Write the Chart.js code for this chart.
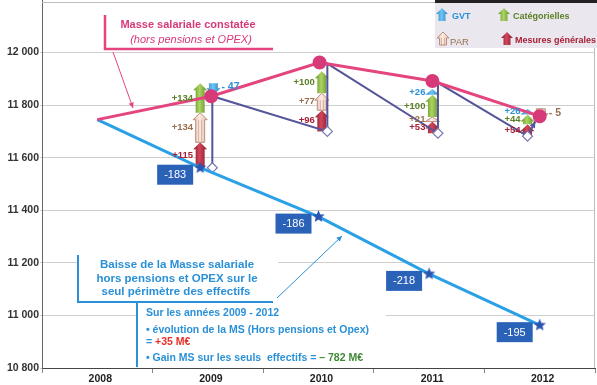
<!DOCTYPE html>
<html>
<head>
<meta charset="utf-8">
<script src="https://cdn.jsdelivr.net/npm/chart.js@4"></script>
<style>
  html, body { margin: 0; padding: 0; background: #fff; }
  #wrap { width: 597px; height: 385px; position: relative; }
</style>
</head>
<body>
<div id="wrap"><canvas id="c"></canvas></div>
<script>
const years = ['2008', '2009', '2010', '2011', '2012'];

// Masse salariale constatée (hors pensions et OPEX)
const constateeX = [2008, 2009.03, 2010.01, 2011.03, 2012];
const constatee = [11745, 11834, 11962, 11892, 11758];

// Masse salariale sur le seul périmètre des effectifs
const effectifsX = [2008, 2008.93, 2010, 2011, 2012];
const effectifs = [11745, 11562, 11376, 11158, 10963];
const effetEffectifs = [null, -183, -186, -218, -195];

// trait violet d'une année à l'autre
const passageX = [2009.04, 2009.04, 2010.08, 2010.08, 2011.08, 2011.08, 2011.89, 2011.96];
const passage = [11562, 11834, 11700, 11958, 11693, 11885, 11682, 11738];
const passageRayon = [5, 0, 5, 0, 5, 0, 5, 0];

// mesures 2009..2012
const mesuresX = [2008.93, 2010.03, 2011.03, 2011.89];
const mesuresBase = [11562, 11700, 11693, 11682];
const mesuresGenerales = [115, 96, 53, 54];
const par = [134, 77, 21, -5];
const categorielles = [134, 100, 100, 44];
const gvt = [-47, null, 26, 26];

const echelleFleches = 0.84;
const decalageNegatif = 0.12;

const FONT = '"Liberation Sans", Arial, sans-serif';
const ROSE = '#e4457f';
const ROSE_PT = '#d63a78';
const BLEU = '#2aa0e6';
const VIOLET = '#55559a';
const BLEU_NOTE = '#2a90d8';

const familles = [
  { nom: 'Mesures générales', vals: mesuresGenerales, light: '#d2465c', dark: '#861a2c', text: '#a82038' },
  { nom: 'PAR', vals: par, light: '#fdebe2', dark: '#e6bcaa', stroke: '#b98f7e', text: '#98704f' },
  { nom: 'Catégorielles', vals: categorielles, light: '#acd464', dark: '#5f8f22', text: '#5a7f25' },
  { nom: 'GVT', vals: gvt, light: '#70c4f2', dark: '#2a84c8', text: '#2a90d8' }
];

// empilement des flèches
const sommet = mesuresBase.slice();
const flechesData = familles.map(() => []);
familles.forEach((f, k) => {
  f.vals.forEach((v, i) => {
    if (v == null || v < 0) return;
    const haut = sommet[i] + v * echelleFleches;
    flechesData[k].push({ x: mesuresX[i], y: [sommet[i], haut], v: v });
    sommet[i] = haut;
  });
});
familles.forEach((f, k) => {
  f.vals.forEach((v, i) => {
    if (v == null || v >= 0) return;
    flechesData[k].push({ x: mesuresX[i] + decalageNegatif, y: [sommet[i], sommet[i] + v * echelleFleches], v: v });
  });
});

function etoile(r, color) {
  const c = document.createElement('canvas');
  const s = Math.ceil(r * 2 + 2);
  c.width = c.height = s;
  const g = c.getContext('2d');
  g.fillStyle = color;
  g.beginPath();
  for (let i = 0; i < 10; i++) {
    const rr = i % 2 ? r * 0.45 : r;
    const a = -Math.PI / 2 + i * Math.PI / 5;
    g.lineTo(s / 2 + rr * Math.cos(a), s / 2 + rr * Math.sin(a));
  }
  g.closePath();
  g.fill();
  return c;
}

function fleche(ctx, x, yTail, yTip, f, w, hw, hh) {
  w = w || 9; hw = hw || 14; hh = hh || 7;
  const dir = yTip < yTail ? -1 : 1;
  const h = Math.min(hh, Math.abs(yTip - yTail));
  const yNeck = yTip - dir * h;
  const g = ctx.createLinearGradient(x - hw / 2, 0, x + hw / 2, 0);
  g.addColorStop(0, f.dark);
  g.addColorStop(0.45, f.light);
  g.addColorStop(1, f.dark);
  ctx.beginPath();
  ctx.moveTo(x - w / 2, yTail);
  ctx.lineTo(x - w / 2, yNeck);
  ctx.lineTo(x - hw / 2, yNeck);
  ctx.lineTo(x, yTip);
  ctx.lineTo(x + hw / 2, yNeck);
  ctx.lineTo(x + w / 2, yNeck);
  ctx.lineTo(x + w / 2, yTail);
  ctx.closePath();
  ctx.fillStyle = g;
  ctx.fill();
  if (f.stroke) {
    ctx.strokeStyle = f.stroke;
    ctx.lineWidth = 1;
    ctx.stroke();
    ctx.beginPath();
    ctx.moveTo(x - 1.5, yTail); ctx.lineTo(x - 1.5, yNeck);
    ctx.moveTo(x + 1.5, yTail); ctx.lineTo(x + 1.5, yNeck);
    ctx.lineWidth = 0.6;
    ctx.stroke();
  }
}

function pointe(ctx, x0, y0, x1, y1, size, color) {
  const a = Math.atan2(y1 - y0, x1 - x0);
  ctx.fillStyle = color;
  ctx.beginPath();
  ctx.moveTo(x1, y1);
  ctx.lineTo(x1 - size * Math.cos(a - 0.45), y1 - size * Math.sin(a - 0.45));
  ctx.lineTo(x1 - size * Math.cos(a + 0.45), y1 - size * Math.sin(a + 0.45));
  ctx.closePath();
  ctx.fill();
}

function texte(ctx, str, x, y, font, color, align) {
  ctx.font = font;
  ctx.fillStyle = color;
  ctx.textAlign = align || 'left';
  ctx.textBaseline = 'middle';
  ctx.fillText(str, x, y);
}

function texteMulti(ctx, parts, x, y, font) {
  ctx.font = font;
  ctx.textAlign = 'left';
  ctx.textBaseline = 'middle';
  parts.forEach(p => {
    ctx.fillStyle = p[1];
    ctx.fillText(p[0], x, y);
    x += ctx.measureText(p[0]).width;
  });
}

const NB_LIGNES = 3;

const dessins = {
  id: 'dessins',
  beforeDatasetsDraw(chart) {
    const ctx = chart.ctx;
    const yS = chart.scales.y;
    ctx.save();
    // fonds blancs des encadrés
    ctx.fillStyle = '#fff';
    ctx.fillRect(105, 3, 170, 45);
    ctx.fillRect(79, 248, 199, 53);
    ctx.fillRect(138, 303, 248, 64);

    familles.forEach((f, k) => {
      const meta = chart.getDatasetMeta(NB_LIGNES + k);
      meta.data.forEach((el, i) => {
        const d = flechesData[k][i];
        const y0 = yS.getPixelForValue(d.y[0]);
        let y1 = yS.getPixelForValue(d.y[1]);
        if (d.v < 0 && y1 - y0 < 12) y1 = y0 + 12;
        fleche(ctx, el.x, y0, y1, f);
      });
    });
    ctx.restore();
  },
  afterDatasetsDraw(chart) {
    const ctx = chart.ctx;
    const yS = chart.scales.y;
    ctx.save();

    // libellés des flèches
    familles.forEach((f, k) => {
      const meta = chart.getDatasetMeta(NB_LIGNES + k);
      meta.data.forEach((el, i) => {
        const d = flechesData[k][i];
        const y0 = yS.getPixelForValue(d.y[0]);
        let y1 = yS.getPixelForValue(d.y[1]);
        if (d.v < 0) {
          if (y1 - y0 < 12) y1 = y0 + 12;
          texte(ctx, '- ' + (-d.v), el.x + 8, (y0 + y1) / 2 - 2, 'bold 10.5px ' + FONT, f.text, 'left');
        } else {
          texte(ctx, '+' + d.v, el.x - 7, (y0 + y1) / 2, 'bold 9.5px ' + FONT, f.text, 'right');
        }
      });
    });

    // pointe du trait violet
    const pv = chart.getDatasetMeta(2).data;
    const a = pv[pv.length - 2], b = pv[pv.length - 1];
    pointe(ctx, a.x, a.y, b.x, b.y, 7, VIOLET);

    // étiquettes bleues
    const pb = chart.getDatasetMeta(1).data;
    effetEffectifs.forEach((v, i) => {
      if (v == null) return;
      const cx = pb[i].x - 25, cy = pb[i].y + 7;
      ctx.fillStyle = '#2a62b8';
      ctx.fillRect(cx - 18, cy - 10, 36, 20);
      texte(ctx, String(v), cx, cy + 0.5, '11px ' + FONT, '#fff', 'center');
    });

    // encadré rose
    ctx.strokeStyle = ROSE;
    ctx.lineWidth = 2.5;
    ctx.beginPath();
    ctx.moveTo(105, 15); ctx.lineTo(105, 49); ctx.lineTo(273, 49);
    ctx.stroke();
    texte(ctx, 'Masse salariale constatée', 188, 25, 'bold 11px ' + FONT, ROSE_PT, 'center');
    texte(ctx, '(hors pensions et OPEX)', 191, 40, 'italic 11px ' + FONT, ROSE_PT, 'center');
    ctx.lineWidth = 1;
    ctx.beginPath();
    ctx.moveTo(113, 52); ctx.lineTo(133, 108);
    ctx.stroke();
    pointe(ctx, 113, 52, 133, 108, 6, ROSE);

    // encadré bleu
    ctx.strokeStyle = BLEU_NOTE;
    ctx.lineWidth = 2;
    ctx.beginPath();
    ctx.moveTo(78, 255); ctx.lineTo(78, 302); ctx.lineTo(273, 302);
    ctx.moveTo(137, 302); ctx.lineTo(137, 367);
    ctx.stroke();
    const fb = 'bold 11.5px ' + FONT;
    texte(ctx, 'Baisse de la Masse salariale', 177, 265, fb, BLEU_NOTE, 'center');
    texte(ctx, 'hors pensions et OPEX sur le', 177, 279, fb, BLEU_NOTE, 'center');
    texte(ctx, 'seul périmètre des effectifs', 176, 292, fb, BLEU_NOTE, 'center');
    ctx.lineWidth = 1;
    ctx.beginPath();
    ctx.moveTo(277, 298); ctx.lineTo(342, 236);
    ctx.stroke();
    pointe(ctx, 277, 298, 342, 236, 6, BLEU_NOTE);

    const fs = 'bold 10.5px ' + FONT;
    texte(ctx, 'Sur les années 2009 - 2012', 146, 313, fs, BLEU_NOTE, 'left');
    texte(ctx, '• évolution de la MS (Hors pensions et Opex)', 146, 330, fs, BLEU_NOTE, 'left');
    texteMulti(ctx, [['= ', BLEU_NOTE], ['+35 M€', '#e8302a']], 146, 342, fs);
    texteMulti(ctx, [['• Gain MS sur les seuls  effectifs = ', BLEU_NOTE], ['– 782 M€', '#3f8a35']], 146, 358, fs);

    // cadre haut
    ctx.strokeStyle = '#bdbdbd';
    ctx.lineWidth = 1;
    ctx.beginPath();
    ctx.moveTo(42, 2.5); ctx.lineTo(435, 2.5);
    ctx.moveTo(594.5, 0); ctx.lineTo(594.5, 368);
    ctx.stroke();

    // légende
    ctx.fillStyle = '#ebe7ee';
    ctx.fillRect(435, 2, 162, 46);
    ctx.fillStyle = '#222';
    ctx.fillRect(435, 0, 162, 3);
    const fl = 'bold 9px ' + FONT;
    const pos = { 'GVT': [442, 21, 452, 17], 'Catégorielles': [504, 21, 513, 17], 'PAR': [443, 45, 450, 42], 'Mesures générales': [507, 45, 515, 41] };
    familles.forEach(f => {
      const p = pos[f.nom];
      fleche(ctx, p[0], p[1], p[1] - 13, f, 7, 12, 6);
      texte(ctx, f.nom, p[2], p[3], f.nom === 'PAR' ? '9.5px ' + FONT : fl, f.text, 'left');
    });

    ctx.restore();
  }
};

const datasets = [
  {
    label: 'Masse salariale constatée',
    xAxisID: 'xv',
    data: constatee.map((v, i) => ({ x: constateeX[i], y: v })),
    borderColor: ROSE,
    borderWidth: 3,
    pointRadius: [0, 5.5, 5.5, 5.5, 5.5],
    pointBackgroundColor: ROSE_PT,
    pointBorderColor: ROSE_PT,
    tension: 0
  },
  {
    label: 'Effectifs',
    xAxisID: 'xv',
    data: effectifs.map((v, i) => ({ x: effectifsX[i], y: v })),
    borderColor: BLEU,
    borderWidth: 3,
    pointStyle: etoile(6.5, '#2a55b0'),
    pointRadius: [0, 6, 6, 6, 6],
    tension: 0
  },
  {
    label: 'Passage',
    xAxisID: 'xv',
    data: passage.map((v, i) => ({ x: passageX[i], y: v })),
    borderColor: VIOLET,
    borderWidth: 2,
    pointStyle: 'rectRot',
    pointRadius: passageRayon,
    pointBackgroundColor: '#fff',
    pointBorderColor: '#7a7ab0',
    pointBorderWidth: 1.2,
    tension: 0
  }
].concat(familles.map((f, k) => ({
  type: 'bar',
  label: f.nom,
  xAxisID: 'xv',
  data: flechesData[k],
  grouped: false,
  barThickness: 9,
  backgroundColor: 'rgba(0,0,0,0)'
})));

new Chart(document.getElementById('c'), {
  type: 'line',
  data: { labels: years, datasets: datasets },
  options: {
    responsive: true,
    maintainAspectRatio: false,
    animation: false,
    events: [],
    layout: { autoPadding: false, padding: { top: 0, right: 2, left: 0, bottom: 0 } },
    plugins: { legend: { display: false }, tooltip: { enabled: false } },
    scales: {
      x: {
        type: 'category',
        offset: true,
        grid: { offset: true, drawOnChartArea: false, tickLength: 5, color: '#888' },
        border: { color: '#444' },
        ticks: { font: { family: FONT, size: 10.5, weight: 'bold' }, color: '#222', padding: 0, maxRotation: 0, labelOffset: 3 },
        afterFit(s) { s.height = 17; s.paddingLeft = 0; s.paddingRight = 0; }
      },
      xv: { type: 'linear', min: 2007.5, max: 2012.5, display: false, offset: false },
      y: {
        min: 10800,
        max: 12200,
        ticks: {
          stepSize: 200,
          font: { family: FONT, size: 10.5, weight: 'bold' },
          color: '#333',
          padding: 1,
          callback: v => v >= 12200 ? '' : String(v).replace(/\B(?=(\d{3})+(?!\d))/g, ' ')
        },
        grid: { color: ctx => ctx.tick && ctx.tick.value >= 12200 ? 'rgba(0,0,0,0)' : '#cfcfcf', tickLength: 2 },
        border: { color: '#666' },
        afterFit(s) { s.width = 42; s.paddingTop = 0; s.paddingBottom = 0; }
      }
    }
  },
  plugins: [dessins]
});
</script>
</body>
</html>
